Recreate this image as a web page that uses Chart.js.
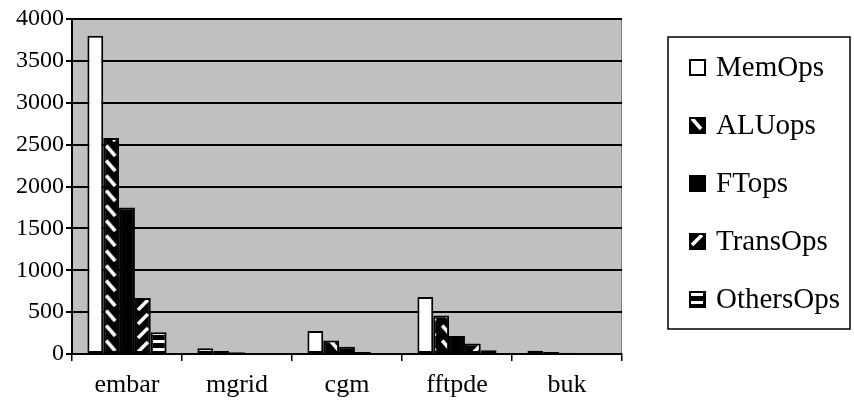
<!DOCTYPE html>
<html>
<head>
<meta charset="utf-8">
<script src="https://cdn.jsdelivr.net/npm/chart.js"></script>
<style>
  html, body { margin: 0; padding: 0; background: #fff; }
  #wrap { width: 854px; height: 401px; }
</style>
</head>
<body>
<div id="wrap"><canvas id="c" width="854" height="401"></canvas></div>
<script>
const categories = ['embar', 'mgrid', 'cgm', 'fftpde', 'buk']
const seriesNames = ['MemOps', 'ALUops', 'FTops', 'TransOps', 'OthersOps']
const memOps = [3800, 70, 275, 680, 40]
const aluOps = [2580, 35, 160, 460, 25]
const ftOps = [1750, 20, 87, 215, 15]
const transOps = [670, 10, 25, 125, 10]
const othersOps = [260, 8, 10, 45, 5]
const yTicks = [0, 500, 1000, 1500, 2000, 2500, 3000, 3500, 4000]

const serif = "'Liberation Serif', 'Times New Roman', serif"
const catPct = 0.72

// little tiles for the hatched fills
function makePattern(kind) {
  if (kind === 'white') return '#fff'
  if (kind === 'black') return '#000'
  const t = document.createElement('canvas')
  const g = t.getContext('2d')
  t.width = 16
  if (kind === 'back') {
    t.height = 15
    g.fillStyle = '#000'; g.fillRect(0, 0, 16, 15)
    g.strokeStyle = '#fff'; g.lineWidth = 3.5
    g.beginPath(); g.moveTo(3, 1.5); g.lineTo(12, 12); g.stroke()
  } else if (kind === 'fwd') {
    t.height = 14
    g.fillStyle = '#000'; g.fillRect(0, 0, 16, 14)
    g.strokeStyle = '#fff'; g.lineWidth = 3.5
    g.beginPath(); g.moveTo(3, 12); g.lineTo(13, 2); g.stroke()
  } else if (kind === 'horiz') {
    t.height = 8
    g.fillStyle = '#000'; g.fillRect(0, 0, 16, 8)
    g.fillStyle = '#fff'; g.fillRect(2, 2, 12, 3)
  }
  return g.createPattern(t, 'repeat')
}

const kinds = ['white', 'back', 'black', 'fwd', 'horiz']
const fills = kinds.map(makePattern)
const values = [memOps, aluOps, ftOps, transOps, othersOps]

// line the tile up with the left edge of each bar
function fillFor(i) {
  return c => {
    const f = fills[i]
    if (typeof f === 'string' || c.type !== 'data') return f
    const xs = c.chart.scales && c.chart.scales.x
    const area = c.chart.chartArea
    if (!xs || !area || !xs.width) return f
    const group = xs.width / categories.length * catPct
    const bw = group / seriesNames.length
    const left = xs.getPixelForValue(c.dataIndex) - group / 2 + c.datasetIndex * bw
    f.setTransform(new DOMMatrix().translate(left, area.bottom))
    return f
  }
}

const plotBg = {
  id: 'plotBg',
  beforeDraw(chart) {
    const { ctx, chartArea: a } = chart
    ctx.save()
    ctx.fillStyle = '#c0c0c0'
    ctx.fillRect(a.left, a.top, a.right - a.left, a.bottom - a.top)
    ctx.strokeStyle = '#808080'
    ctx.lineWidth = 1
    ctx.strokeRect(a.left + 0.5, a.top + 0.5, a.right - a.left - 1, a.bottom - a.top)
    ctx.restore()
  }
}

// legend drawn in a framed box to the right
const boxLegend = {
  id: 'boxLegend',
  afterDraw(chart) {
    const ctx = chart.ctx
    ctx.save()
    ctx.lineWidth = 1.5
    ctx.strokeStyle = '#000'
    ctx.strokeRect(668, 37, 182, 292)
    ctx.font = '29px ' + serif
    ctx.textBaseline = 'middle'
    chart.data.datasets.forEach((ds, i) => {
      const y = 67 + i * 58
      const f = fills[i]
      if (typeof f !== 'string') f.setTransform(new DOMMatrix().translate(689, y - 8))
      ctx.fillStyle = f
      ctx.fillRect(689, y - 8, 17, 17)
      ctx.lineWidth = 2
      ctx.strokeRect(690, y - 7, 15, 15)
      ctx.fillStyle = '#000'
      ctx.fillText(ds.label, 716, y + 1)
    })
    ctx.restore()
  }
}

new Chart(document.getElementById('c'), {
  type: 'bar',
  data: {
    labels: categories,
    datasets: seriesNames.map((name, i) => ({
      label: name,
      data: values[i],
      backgroundColor: fillFor(i),
      borderColor: '#000',
      borderWidth: 2,
      borderSkipped: false,
      categoryPercentage: catPct,
      barPercentage: 1
    }))
  },
  options: {
    responsive: false,
    animation: false,
    layout: { padding: { top: 19, right: 232, bottom: 0, left: 0 } },
    plugins: {
      legend: { display: false },
      tooltip: { enabled: false }
    },
    scales: {
      x: {
        grid: { drawOnChartArea: false, color: '#000', lineWidth: 1.5, tickLength: 7, offset: true },
        border: { color: '#000', width: 2 },
        ticks: { color: '#000', font: { family: serif, size: 26 }, padding: 9 },
        afterFit(s) { s.height = 47 }
      },
      y: {
        min: 0,
        max: 4000,
        afterBuildTicks(s) { s.ticks = yTicks.map(v => ({ value: v })) },
        grid: { color: '#000', lineWidth: 2, tickLength: 6 },
        border: { color: '#000', width: 2 },
        ticks: { color: '#000', font: { family: serif, size: 24 }, padding: 2, callback: v => String(v) },
        afterFit(s) { s.width = 72 }
      }
    }
  },
  plugins: [plotBg, boxLegend]
})
</script>
</body>
</html>
